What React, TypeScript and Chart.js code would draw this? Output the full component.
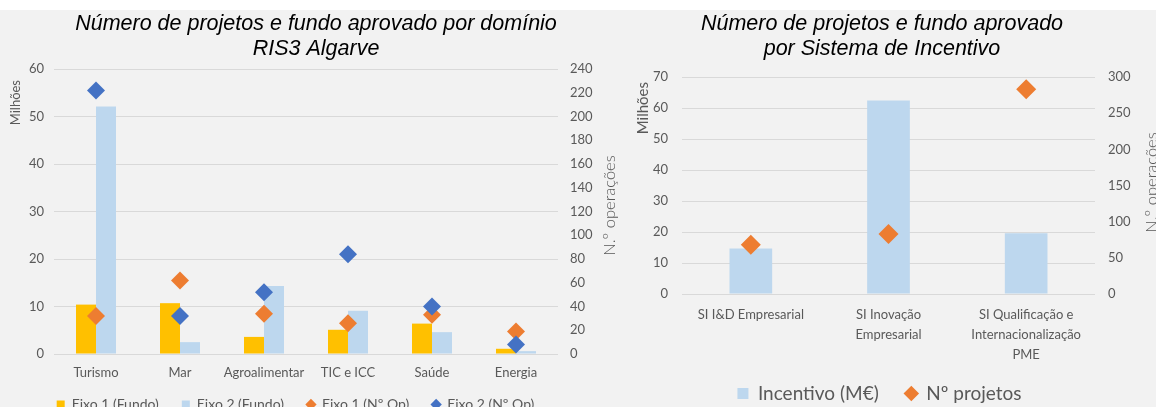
import React, { useEffect, useRef } from 'react';
import { Chart, registerables } from 'chart.js';

Chart.register(...registerables);

// ---------- Left chart data ----------
const leftTitle = ['Número de projetos e fundo aprovado por domínio', 'RIS3 Algarve'];
const domainLabels = ['Turismo', 'Mar', 'Agroalimentar', 'TIC e ICC', 'Saúde', 'Energia'];
const eixo1Fundo = [10.4, 10.7, 3.6, 5.1, 6.4, 1.1];
const eixo2Fundo = [52.1, 2.5, 14.3, 9.1, 4.6, 0.6];
const eixo1Op = [32, 62, 34, 26, 33, 19];
const eixo2Op = [222, 32, 52, 84, 40, 8];

// ---------- Right chart data ----------
const rightTitle = ['Número de projetos e fundo aprovado', 'por Sistema de Incentivo'];
const siLabels = [
  ['SI I&D Empresarial'],
  ['SI Inovação', 'Empresarial'],
  ['SI Qualificação e', 'Internacionalização', 'PME'],
];
const incentivo = [14.7, 62.4, 19.6];
const nProjetos = [68, 83, 283];

const FONT = "Lato, 'Open Sans', sans-serif";
const TITLE_FONT = "'Liberation Sans', Arial, sans-serif";
const GREY = '#595959';
const GRID = '#d9d9d9';
const YELLOW = '#FFC000';
const LIGHTBLUE = '#BDD7EE';
const ORANGE = '#ED7D31';
const BLUE = '#4472C4';

const extrasPlugin = {
  id: 'extras',
  afterLayout(chart: any, _a: any, opts: any) {
    const lg = chart.legend;
    if (lg) {
      const ls = opts.legendShift || 0;
      lg.left += ls;
      lg.right += ls;
      const ld = opts.legendDy || 0;
      lg.top += ld;
      lg.bottom += ld;
    }
    const ts = opts.titleShift || 0;
    if (chart.titleBlock && ts) {
      chart.titleBlock.left += ts;
      chart.titleBlock.right += ts;
    }
  },
  afterDraw(chart: any, _a: any, opts: any) {
    const { ctx, chartArea } = chart;
    for (const it of opts.axisTitles || []) {
      ctx.save();
      ctx.font = it.font;
      ctx.fillStyle = it.color;
      ctx.textAlign = it.align;
      ctx.textBaseline = 'middle';
      const x = it.side === 'left' ? chartArea.left - it.dx : chartArea.right + it.dx;
      const y = it.anchor === 'top'
        ? chartArea.top + it.dy
        : (chartArea.top + chartArea.bottom) / 2 + it.dy;
      ctx.translate(x, y);
      ctx.rotate(-Math.PI / 2);
      ctx.fillText(it.text, 0, 0);
      ctx.restore();
    }
  },
};

const byIndex = (a: any, b: any) => a.datasetIndex - b.datasetIndex;

function makeLeftConfig(): any {
  return {
    data: {
      labels: domainLabels,
      datasets: [
        { type: 'bar', label: 'Eixo 1 (Fundo)', data: eixo1Fundo, yAxisID: 'y', backgroundColor: YELLOW, pointStyle: 'rect', order: 3, categoryPercentage: 0.476, barPercentage: 1 },
        { type: 'bar', label: 'Eixo 2 (Fundo)', data: eixo2Fundo, yAxisID: 'y', backgroundColor: LIGHTBLUE, pointStyle: 'rect', order: 3, categoryPercentage: 0.476, barPercentage: 1 },
        { type: 'line', label: 'Eixo 1 (Nº Op)', data: eixo1Op, yAxisID: 'y1', showLine: false, pointStyle: 'rectRot', pointRadius: 9, pointBorderWidth: 0, borderWidth: 0, backgroundColor: ORANGE, borderColor: ORANGE, pointBackgroundColor: ORANGE, order: 1 },
        { type: 'line', label: 'Eixo 2 (Nº Op)', data: eixo2Op, yAxisID: 'y1', showLine: false, pointStyle: 'rectRot', pointRadius: 9, pointBorderWidth: 0, borderWidth: 0, backgroundColor: BLUE, borderColor: BLUE, pointBackgroundColor: BLUE, order: 0 },
      ],
    },
    options: {
      animation: false,
      responsive: false,
      layout: { padding: 0 },
      scales: {
        x: {
          grid: { display: false, drawTicks: false },
          border: { display: false },
          ticks: { color: GREY, font: { family: FONT, size: 13 }, padding: 11, maxRotation: 0, autoSkip: false },
          afterFit: (s: any) => { s.height = 28; },
        },
        y: {
          position: 'left',
          min: 0, max: 60,
          ticks: { stepSize: 10, color: GREY, font: { family: FONT, size: 13 }, padding: 10 },
          grid: { color: GRID, drawTicks: false, lineWidth: 1 },
          border: { display: false },
          afterFit: (s: any) => { s.width = 54; },
        },
        y1: {
          position: 'right',
          min: 0, max: 240,
          ticks: { stepSize: 20, color: GREY, font: { family: FONT, size: 13 }, padding: 12 },
          grid: { display: false, drawTicks: false },
          border: { display: false },
          afterFit: (s: any) => { s.width = 72; },
        },
      },
      plugins: {
        title: {
          display: true,
          text: leftTitle,
          color: '#000',
          font: { family: TITLE_FONT, size: 21.5, style: 'italic', weight: 'normal', lineHeight: '25px' },
          padding: { top: 11.5, bottom: 7.5 },
        },
        legend: {
          display: true,
          position: 'bottom',
          labels: {
            usePointStyle: true,
            boxWidth: 8,
            boxHeight: 8,
            padding: 23,
            color: GREY,
            font: { family: FONT, size: 14 },
            sort: byIndex,
          },
        },
        tooltip: { enabled: false },
        extras: {
          legendShift: -19.5,
          legendDy: -7.5,
          titleShift: 1,
          axisTitles: [
            { text: 'Milhões', font: `13px ${FONT}`, color: GREY, side: 'left', dx: 38, anchor: 'top', dy: 11, align: 'right' },
            { text: 'N.º operações', font: `300 16.5px ${FONT}`, color: GREY, side: 'right', dx: 52, anchor: 'middle', dy: -6, align: 'center' },
          ],
        },
      },
    },
    plugins: [extrasPlugin],
  };
}

function makeRightConfig(): any {
  return {
    data: {
      labels: siLabels,
      datasets: [
        { type: 'bar', label: 'Incentivo (M€)', data: incentivo, yAxisID: 'y', backgroundColor: LIGHTBLUE, pointStyle: 'rect', order: 2, categoryPercentage: 0.31, barPercentage: 1 },
        { type: 'line', label: 'Nº projetos', data: nProjetos, yAxisID: 'y1', showLine: false, pointStyle: 'rectRot', pointRadius: 10, pointBorderWidth: 0, borderWidth: 0, backgroundColor: ORANGE, borderColor: ORANGE, pointBackgroundColor: ORANGE, order: 1 },
      ],
    },
    options: {
      animation: false,
      responsive: false,
      layout: { padding: 0 },
      scales: {
        x: {
          grid: { display: false, drawTicks: false },
          border: { display: false },
          ticks: { color: GREY, font: { family: FONT, size: 13, lineHeight: '20px' }, padding: 11, maxRotation: 0, autoSkip: false },
          afterFit: (s: any) => { s.height = 72; },
        },
        y: {
          position: 'left',
          min: 0, max: 70,
          ticks: { stepSize: 10, color: GREY, font: { family: FONT, size: 13 }, padding: 14 },
          grid: { color: GRID, drawTicks: false, lineWidth: 1 },
          border: { display: false },
          afterFit: (s: any) => { s.width = 52; },
        },
        y1: {
          position: 'right',
          min: 0, max: 300,
          ticks: { stepSize: 50, color: GREY, font: { family: FONT, size: 13 }, padding: 13 },
          grid: { display: false, drawTicks: false },
          border: { display: false },
          afterFit: (s: any) => { s.width = 61; },
        },
      },
      plugins: {
        title: {
          display: true,
          text: rightTitle,
          color: '#000',
          font: { family: TITLE_FONT, size: 21.5, style: 'italic', weight: 'normal', lineHeight: '25px' },
          padding: { top: 11.5, bottom: 15.5 },
        },
        legend: {
          display: true,
          position: 'bottom',
          labels: {
            usePointStyle: true,
            boxWidth: 11,
            boxHeight: 11,
            padding: 27,
            color: GREY,
            font: { family: FONT, size: 19 },
            sort: byIndex,
          },
        },
        tooltip: { enabled: false },
        extras: {
          legendShift: -13.5,
          legendDy: -9,
          titleShift: -11,
          axisTitles: [
            { text: 'Milhões', font: `15px ${FONT}`, color: GREY, side: 'left', dx: 39, anchor: 'top', dy: 5, align: 'right' },
            { text: 'N.º operações', font: `300 16.5px ${FONT}`, color: GREY, side: 'right', dx: 57, anchor: 'middle', dy: -3, align: 'center' },
          ],
        },
      },
    },
    plugins: [extrasPlugin],
  };
}

function ChartCanvas(props: { width: number; height: number; left: number; make: () => any }) {
  const ref = useRef<HTMLCanvasElement | null>(null);
  useEffect(() => {
    if (!ref.current) return;
    const chart = new Chart(ref.current, props.make());
    return () => chart.destroy();
  }, []);
  return (
    <canvas
      ref={ref}
      width={props.width}
      height={props.height}
      style={{ position: 'absolute', left: props.left, top: 0, width: props.width, height: props.height, display: 'block' }}
    />
  );
}

export default function App() {
  return (
    <div style={{ position: 'fixed', left: 0, top: 0, width: 1156, height: 407, overflow: 'hidden', background: '#ffffff' }}>
      <div style={{ position: 'absolute', left: 0, top: 10, width: 1156, height: 397, background: '#f2f2f2' }} />
      <ChartCanvas width={630} height={429} left={0} make={makeLeftConfig} />
      <ChartCanvas width={526} height={422} left={630} make={makeRightConfig} />
    </div>
  );
}
